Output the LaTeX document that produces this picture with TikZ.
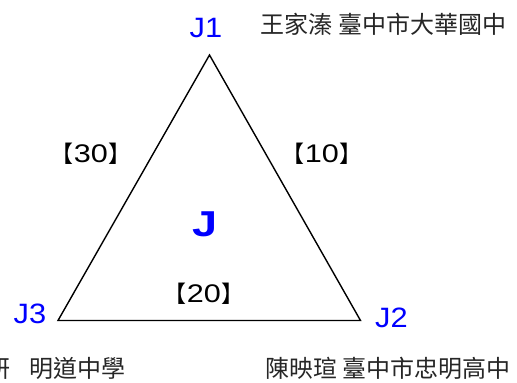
\documentclass[tikz,border=0pt]{standalone}
\usepackage{fontspec}
\setmainfont{Liberation Sans}
\newfontfamily\cjk{Noto Sans CJK TC}
\newfontfamily\wideJ[FakeStretch=1.1]{Liberation Sans}
\newfontfamily\wideN[FakeStretch=1.2]{Liberation Sans}
\newfontfamily\wideB[FakeStretch=1.25]{Liberation Sans}
\definecolor{jblue}{RGB}{0,0,255}
\begin{document}
\begin{tikzpicture}[x=1pt,y=-1pt,
  vlabel/.style={text=jblue,font=\wideJ\fontsize{28}{28}\selectfont,inner sep=0pt,anchor=base},
  elabel/.style={font=\wideN\fontsize{25.5}{25.5}\selectfont,inner sep=0pt,anchor=base},
  person/.style={font=\cjk\fontsize{24}{24}\selectfont,inner sep=0pt,text=black!85},
  tri/.style={line width=1.4pt,line join=miter}]
\useasboundingbox (0,0) rectangle (517,383);
\clip (0,0) rectangle (517,383);
\coordinate (v1) at (209.5,55);
\coordinate (v2) at (360.5,320.5);
\coordinate (v3) at (58,320.5);
\draw[tri] (v1) -- (v2) -- (v3) -- cycle;
\node[vlabel] (j1) at (206,37) {J1};
\node[vlabel] (j2) at (391.5,327) {J2};
\node[vlabel] (j3) at (30,323) {J3};
\node[vlabel,font=\wideB\bfseries\fontsize{36}{36}\selectfont] (j) at (205,236.5) {J};
\node[elabel] (e30) at (91,162.5) {{\cjk\fontsize{23}{23}\selectfont【}30{\cjk\fontsize{23}{23}\selectfont】}};
\node[elabel] (e10) at (322,162.5) {{\cjk\fontsize{23}{23}\selectfont【}10{\cjk\fontsize{23}{23}\selectfont】}};
\node[elabel] (e20) at (204,302) {{\cjk\fontsize{23}{23}\selectfont【}20{\cjk\fontsize{23}{23}\selectfont】}};
\node[person] (p1) at (383.5,24) {王家溱\ 臺中市大華國中};
\node[person] (p2) at (388,368) {陳映瑄\ 臺中市忠明高中};
\node[person,anchor=east] (p3) at (126,368) {妍\hspace{19pt}明道中學};
\end{tikzpicture}
\end{document}
